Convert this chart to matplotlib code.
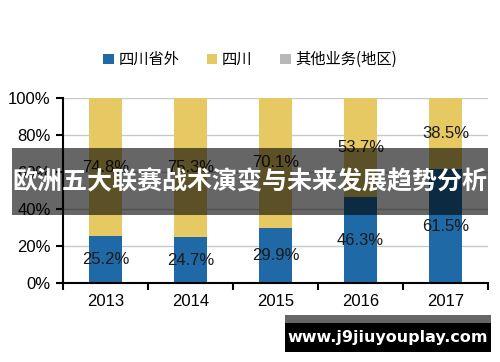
import matplotlib
matplotlib.use("Agg")
import matplotlib.pyplot as plt
from matplotlib.patches import Rectangle
import numpy as np

plt.rcParams['font.family'] = ['Liberation Sans', 'Noto Sans CJK SC', 'DejaVu Sans']

years = ["2013", "2014", "2015", "2016", "2017"]
outside = [25.2, 24.7, 29.9, 46.3, 61.5]
sichuan = [74.8, 75.3, 70.1, 53.7, 38.5]
other = [0, 0, 0, 0, 0]
series_names = ["四川省外", "四川", "其他业务(地区)"]

blue = "#1f6aa6"
yellow = "#e6c963"
gray = "#b8b8b8"

fig = plt.figure(figsize=(5, 3.62), dpi=100)
ax = fig.add_axes([0.126, 0.218, 0.85, 0.511])

x = np.arange(len(years))
w = 0.39
outside = np.array(outside)
sichuan = np.array(sichuan)
other = np.array(other)
b1 = ax.bar(x, outside, w, color=blue, label=series_names[0], zorder=2)
b2 = ax.bar(x, sichuan, w, bottom=outside, color=yellow, label=series_names[1], zorder=2)
b3 = ax.bar(x, other, w, bottom=outside + sichuan, color=gray, label=series_names[2], zorder=2)

for i in range(len(years)):
    ax.text(x[i], outside[i] / 2, f"{outside[i]:.1f}%", ha="center", va="center",
            fontsize=12, color="#1a1a1a", zorder=3)
    ax.text(x[i], outside[i] + sichuan[i] / 2, f"{sichuan[i]:.1f}%", ha="center", va="center",
            fontsize=12, color="#1a1a1a", zorder=3)

ax.set_xlim(-0.5, 4.5)
ax.set_ylim(0, 100)
ax.set_yticks(np.arange(0, 101, 20))
ax.set_yticklabels([f"{v}%" for v in range(0, 101, 20)], fontsize=12)
ax.yaxis.grid(True, color="#c8c8c8", linewidth=1, zorder=0)
ax.set_xticks(x)
ax.set_xticklabels(years, fontsize=12)
ax.set_xticks(np.arange(-0.5, 5, 1), minor=True)
ax.tick_params(axis="x", which="major", length=0, pad=8)
ax.tick_params(axis="x", which="minor", length=5, width=1.5, direction="out")
ax.tick_params(axis="y", length=5, width=1.5, direction="out", pad=4)
for s in ["top", "right"]:
    ax.spines[s].set_visible(False)
for s in ["left", "bottom"]:
    ax.spines[s].set_linewidth(1.5)

fig.legend(handles=[b1, b2, b3], loc="center", bbox_to_anchor=(0.5, 0.835), ncol=3,
           frameon=False, fontsize=11, handlelength=0.7, handleheight=0.7,
           handletextpad=0.3, columnspacing=1.8,
           prop={"family": ["Noto Sans CJK SC"], "size": 11})

# overlay banner
fig.patches.append(Rectangle((0.024, 0.406), 0.952, 0.185, transform=fig.transFigure,
                             facecolor="black", alpha=0.6, zorder=5))
fig.text(0.5, 0.498, "欧洲五大联赛战术演变与未来发展趋势分析", ha="center", va="center",
         color="white", fontsize=18, fontweight="bold", family=["Noto Sans CJK SC"], zorder=6)

# watermark
fig.patches.append(Rectangle((0.57, 0.108), 0.412, 0.022, transform=fig.transFigure,
                             facecolor="#666666", zorder=5))
fig.patches.append(Rectangle((0.57, 0.028), 0.412, 0.08, transform=fig.transFigure,
                             facecolor="black", zorder=5))
fig.text(0.776, 0.068, "www.j9jiuyouplay.com", ha="center", va="center", color="white",
         fontsize=11.5, fontweight="bold", family=["DejaVu Sans"], zorder=6)

fig.savefig("out.png", dpi=100)
